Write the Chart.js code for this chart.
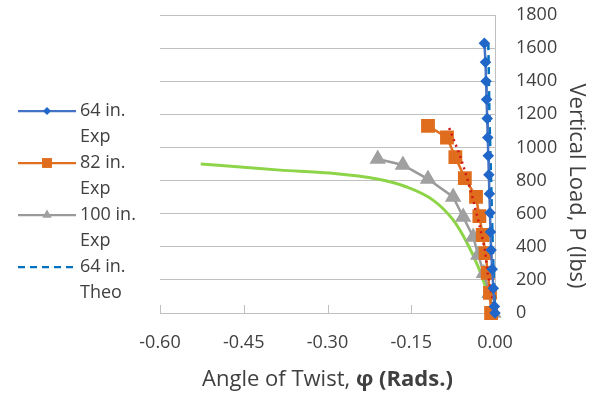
<!DOCTYPE html>
<html>
<head>
<meta charset="utf-8">
<script src="https://cdn.jsdelivr.net/npm/chart.js@4.4.0/dist/chart.umd.min.js"></script>
<style>
  html, body { margin: 0; padding: 0; background: #fff; }
  #wrap { width: 592px; height: 394px; }
</style>
</head>
<body>
<div id="wrap"><canvas id="grafico" width="592" height="394"></canvas></div>
<script>
// DATI (angolo in rad, carico in lbs)
const exp64Angle  = [-0.019, -0.017, -0.016, -0.015, -0.014, -0.013, -0.012, -0.011, -0.010, -0.009, -0.008, -0.007, -0.005, -0.003, -0.001, 0];
const exp64Load   = [1630, 1515, 1400, 1290, 1175, 1060, 950, 835, 720, 605, 490, 380, 265, 150, 40, 0];
const theo64Angle = [-0.012, -0.010, -0.007, -0.004, 0];
const theo64Load  = [1630, 1200, 800, 400, 0];
const exp82Angle  = [-0.120, -0.086, -0.071, -0.054, -0.034, -0.028, -0.022, -0.017, -0.013, -0.009, -0.007];
const exp82Load   = [1130, 1060, 942, 815, 701, 585, 471, 362, 242, 121, 0];
const theo82Angle = [-0.082, -0.063, -0.050, -0.039, -0.027, -0.018, -0.013, -0.005, 0];
const theo82Load  = [1117, 954, 815, 683, 519, 381, 242, 97, 0];
const exp100Angle = [-0.210, -0.165, -0.120, -0.075, -0.057, -0.039, -0.030, -0.020, -0.010, -0.003];
const exp100Load  = [930, 894, 809, 701, 580, 459, 350, 240, 120, 0];
const theo100Angle = [-0.527, -0.450, -0.385, -0.296, -0.211, -0.158, -0.111, -0.075, -0.050, -0.030, -0.013, 0];
const theo100Load  = [900, 880, 863, 845, 809, 761, 682, 562, 423, 278, 121, 0];

const xTicks = [-0.60, -0.45, -0.30, -0.15, 0.00];
const yTicks = [0, 200, 400, 600, 800, 1000, 1200, 1400, 1600, 1800];

const FONT = "'Open Sans', sans-serif";
const TESTO = '#404040';
const GRIGLIA = '#c0c0c0';

function punti(xs, ys) {
  return xs.map((v, i) => ({ x: v, y: ys[i] }));
}

// voci della legenda (solo le prime quattro serie, come nell'originale)
const voci = [
  { righe: ['64 in.', 'Exp'], ds: 0 },
  { righe: ['82 in.', 'Exp'], ds: 3 },
  { righe: ['100 in.', 'Exp'], ds: 4 },
  { righe: ['64 in.', 'Theo'], ds: 1 }
];

const extra = {
  id: 'extra',
  beforeDatasetsDraw(chart) {
    // tacche interne sull'asse X + linea in alto
    const ctx = chart.ctx;
    const sx = chart.scales.x, area = chart.chartArea;
    ctx.save();
    ctx.strokeStyle = GRIGLIA;
    ctx.lineWidth = 1;
    xTicks.forEach(v => {
      const px = Math.round(sx.getPixelForValue(v)) + 0.5;
      ctx.beginPath();
      ctx.moveTo(px, area.bottom);
      ctx.lineTo(px, area.bottom - 8);
      ctx.stroke();
    });
    const top = Math.round(area.top) + 0.5;
    ctx.beginPath();
    ctx.moveTo(area.left, top);
    ctx.lineTo(area.right, top);
    ctx.stroke();
    ctx.restore();
  },
  afterDraw(chart) {
    const ctx = chart.ctx;
    const area = chart.chartArea;
    ctx.save();
    // titolo asse X con parte in grassetto
    const t1 = 'Angle of Twist, ', t2 = 'φ (Rads.)';
    ctx.font = "22px " + FONT;
    const w1 = ctx.measureText(t1).width;
    ctx.font = "bold 22px " + FONT;
    const w2 = ctx.measureText(t2).width;
    let x0 = (area.left + area.right) / 2 - (w1 + w2) / 2;
    ctx.fillStyle = TESTO;
    ctx.textBaseline = 'middle';
    ctx.textAlign = 'left';
    ctx.font = "22px " + FONT;
    ctx.fillText(t1, x0, 380);
    ctx.font = "bold 22px " + FONT;
    ctx.fillText(t2, x0 + w1, 380);

    // titolo asse Y, ruotato in senso orario
    ctx.save();
    ctx.translate(576, 186);
    ctx.rotate(Math.PI / 2);
    ctx.textAlign = 'center';
    ctx.font = "22px " + FONT;
    ctx.fillText('Vertical Load, P (lbs)', 0, 0);
    ctx.restore();

    // legenda
    ctx.font = "18px " + FONT;
    ctx.textAlign = 'left';
    voci.forEach((v, i) => {
      const ds = chart.data.datasets[v.ds];
      const yy = 111 + i * 52;
      ctx.strokeStyle = ds.borderColor;
      ctx.lineWidth = 2.25;
      ctx.setLineDash(ds.borderDash || []);
      ctx.beginPath();
      ctx.moveTo(18, yy);
      ctx.lineTo(76, yy);
      ctx.stroke();
      ctx.setLineDash([]);
      if (ds.pointRadius > 0) {
        ctx.fillStyle = ds.pointBackgroundColor;
        ctx.strokeStyle = ds.pointBorderColor;
        Chart.helpers.drawPoint(ctx, {
          pointStyle: ds.pointStyle,
          radius: ds.legendRadius,
          rotation: 0,
          borderWidth: 0
        }, 47, yy);
      }
      ctx.fillStyle = TESTO;
      ctx.fillText(v.righe[0], 80, yy);
      ctx.fillText(v.righe[1], 80, yy + 26);
    });
    ctx.restore();
  }
};

const ctx = document.getElementById('grafico').getContext('2d');
new Chart(ctx, {
  type: 'scatter',
  data: {
    datasets: [
      {
        label: '64 in. Exp',
        data: punti(exp64Angle, exp64Load),
        showLine: true,
        borderColor: '#4472C4',
        borderWidth: 2.5,
        pointStyle: 'rectRot',
        pointRadius: 4,
        legendRadius: 4,
        pointBackgroundColor: '#2167C9',
        pointBorderColor: '#2167C9',
        clip: false
      },
      {
        label: '64 in. Theo',
        data: punti(theo64Angle, theo64Load),
        showLine: true,
        borderColor: '#0070C0',
        borderWidth: 2.5,
        borderDash: [7, 5],
        pointRadius: 0,
        clip: false
      },
      {
        label: '82 in. Theo',
        data: punti(theo82Angle, theo82Load),
        showLine: true,
        borderColor: '#D01818',
        borderWidth: 2.5,
        borderDash: [2, 4],
        pointRadius: 0,
        clip: false
      },
      {
        label: '82 in. Exp',
        data: punti(exp82Angle, exp82Load),
        showLine: true,
        borderColor: '#E0701F',
        borderWidth: 2.5,
        pointStyle: 'rect',
        pointRadius: 8,
        legendRadius: 7,
        pointBackgroundColor: '#DF6D1D',
        pointBorderColor: '#DF6D1D',
        clip: false
      },
      {
        label: '100 in. Exp',
        data: punti(exp100Angle, exp100Load),
        showLine: true,
        borderColor: '#9A9A9A',
        borderWidth: 2.5,
        pointStyle: 'triangle',
        pointRadius: 7,
        legendRadius: 5.5,
        pointBackgroundColor: '#A0A0A0',
        pointBorderColor: '#A0A0A0',
        clip: false
      },
      {
        label: '100 in. Theo',
        data: punti(theo100Angle, theo100Load),
        showLine: true,
        borderColor: '#8ED448',
        borderWidth: 3,
        pointRadius: 0,
        cubicInterpolationMode: 'monotone',
        clip: false
      }
    ]
  },
  options: {
    responsive: false,
    animation: false,
    devicePixelRatio: 1,
    layout: { padding: { left: 160, top: 15, right: 0, bottom: 0 } },
    plugins: {
      legend: { display: false },
      tooltip: { enabled: false }
    },
    scales: {
      x: {
        type: 'linear',
        min: -0.6,
        max: 0,
        afterBuildTicks: s => { s.ticks = xTicks.map(v => ({ value: v })); },
        ticks: {
          padding: 2,
          color: TESTO,
          font: { family: FONT, size: 18 },
          callback: v => (Math.abs(v) < 1e-9 ? 0 : v).toFixed(2)
        },
        grid: { display: true, drawOnChartArea: false, drawTicks: true, tickLength: 17, tickColor: 'rgba(0,0,0,0)', color: GRIGLIA },
        border: { display: true, color: GRIGLIA, width: 1 },
        afterFit: s => { s.height = 81; }
      },
      y: {
        type: 'linear',
        position: 'right',
        min: 0,
        max: 1800,
        afterBuildTicks: s => { s.ticks = yTicks.map(v => ({ value: v })); },
        ticks: {
          padding: 2,
          color: TESTO,
          font: { family: FONT, size: 18 },
          callback: v => String(v)
        },
        grid: { color: GRIGLIA, lineWidth: 1, drawTicks: true, tickLength: 19, tickColor: 'rgba(0,0,0,0)' },
        border: { display: true, color: GRIGLIA, width: 1 },
        afterFit: s => { s.width = 97; }
      }
    }
  },
  plugins: [extra]
});
</script>
</body>
</html>
